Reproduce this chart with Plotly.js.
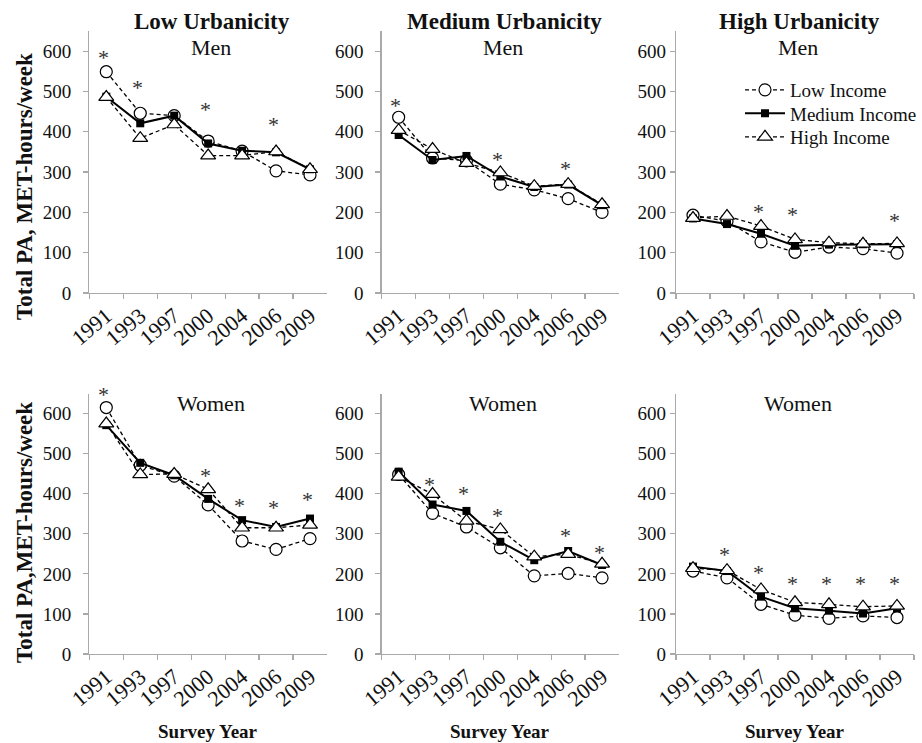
<!DOCTYPE html>
<html>
<head>
<meta charset="utf-8">
<script src="https://cdn.plot.ly/plotly-3.0.1.min.js"></script>
<style>html,body{margin:0;padding:0;background:#fff;}#chart{width:922px;height:743px;}</style>
</head>
<body>
<div id="chart"></div>
<script>
// ---- data ----
var years = ['1991','1993','1997','2000','2004','2006','2009'];
var seriesNames = ['Low Income','Medium Income','High Income'];
var columnTitles = ['Low Urbanicity','Medium Urbanicity','High Urbanicity'];
var rowTitles = ['Men','Women'];

var lowUrbMenLow  = [549,446,440,377,352,303,293];
var lowUrbMenMed  = [487,421,440,371,353,349,307];
var lowUrbMenHigh = [486,384,418,341,341,351,307];

var medUrbMenLow  = [436,335,328,270,256,234,200];
var medUrbMenMed  = [392,330,340,289,263,269,218];
var medUrbMenHigh = [404,357,322,299,265,270,220];

var highUrbMenLow  = [193,178,127,101,114,110,99];
var highUrbMenMed  = [185,171,147,117,120,121,121];
var highUrbMenHigh = [186,191,166,133,125,122,123];

var lowUrbWomenLow  = [615,471,444,372,282,261,288];
var lowUrbWomenMed  = [571,477,446,387,334,317,338];
var lowUrbWomenHigh = [575,448,449,411,315,315,322];

var medUrbWomenLow  = [448,351,317,265,195,201,190];
var medUrbWomenMed  = [455,373,357,280,234,257,222];
var medUrbWomenHigh = [442,399,332,311,243,249,225];

var highUrbWomenLow  = [207,190,124,97,89,95,91];
var highUrbWomenMed  = [218,207,143,114,108,101,114];
var highUrbWomenHigh = [214,209,161,129,124,118,120];

// significance markers (*) : vertical placement per year, null = none
var sigLowUrbMen    = [593,521,null,464,null,427,null];
var sigMedUrbMen    = [475,null,null,342,null,318,null];
var sigHighUrbMen   = [null,null,213,205,null,null,190];
var sigLowUrbWomen  = [657,null,null,455,380,376,396];
var sigMedUrbWomen  = [null,434,411,355,null,305,264];
var sigHighUrbWomen = [null,259,214,186,186,186,186];

// ---- build ----
var panels = [
  [lowUrbMenLow, lowUrbMenMed, lowUrbMenHigh, sigLowUrbMen],
  [medUrbMenLow, medUrbMenMed, medUrbMenHigh, sigMedUrbMen],
  [highUrbMenLow, highUrbMenMed, highUrbMenHigh, sigHighUrbMen],
  [lowUrbWomenLow, lowUrbWomenMed, lowUrbWomenHigh, sigLowUrbWomen],
  [medUrbWomenLow, medUrbWomenMed, medUrbWomenHigh, sigMedUrbWomen],
  [highUrbWomenLow, highUrbWomenMed, highUrbWomenHigh, sigHighUrbWomen]
];

var W = 922, H = 743;
var YMAX = 650;
var colPx = [[89.3,327],[381.7,619],[676,914]];
var rowPx = [[31,293],[393.5,654]];
var standoffs = [8,8,0];
var FONT = 'Liberation Serif, Times New Roman, serif';
var AXC = '#a9a9a9';

var styles = [
  {line:{color:'#000',width:1.3,dash:'4px,3px'}, marker:{symbol:'circle',size:12,color:'#fff',line:{color:'#000',width:1.2}}},
  {line:{color:'#000',width:2}, marker:{symbol:'square',size:8,color:'#000',line:{color:'#000',width:0}}},
  {line:{color:'#000',width:1.3,dash:'4px,3px'}, marker:{symbol:'triangle-up',size:13,color:'#fff',line:{color:'#000',width:1.2}}}
];
var legendIds = ['legend','legend2','legend3'];
var legendY = [90,113.5,137];

var data = [];
var layout = {
  width: W, height: H,
  margin: {l:0,r:0,t:0,b:0},
  paper_bgcolor: '#fff', plot_bgcolor: 'rgba(0,0,0,0)',
  font: {family: FONT, color: '#111', size: 19},
  showlegend: true,
  annotations: [],
  hovermode: false
};
legendIds.forEach(function(id, k) {
  layout[id] = {x: 740/W, y: 1-legendY[k]/H, xanchor:'left', yanchor:'middle', bgcolor:'rgba(0,0,0,0)',
                font:{family:FONT,size:19,color:'#111'}, itemwidth: 40};
});

panels.forEach(function(p, i) {
  var col = i % 3, row = Math.floor(i / 3);
  var n = i + 1;
  var xa = 'x' + (n === 1 ? '' : n), ya = 'y' + (n === 1 ? '' : n);
  var pxPerUnit = (rowPx[row][1] - rowPx[row][0]) / YMAX;
  for (var s = 0; s < 3; s++) {
    data.push({
      type:'scatter', mode:'lines+markers', x: years, y: p[s],
      xaxis: xa, yaxis: ya, name: seriesNames[s],
      showlegend: (i === 2), legend: legendIds[s],
      line: styles[s].line, marker: styles[s].marker, cliponaxis: false
    });
  }
  p[3].forEach(function(v, k) {
    if (v === null) return;
    var yy = Math.min(v, YMAX - 0.5);
    layout.annotations.push({
      xref: xa, yref: ya, x: k, y: yy, text:'*', showarrow:false,
      xanchor:'center', yanchor:'middle', xshift:-3, yshift: -4 + (v - yy) * pxPerUnit,
      font:{family:FONT,size:22,color:'#333'}
    });
  });
  var xd = [colPx[col][0]/W, colPx[col][1]/W];
  var yd = [1 - rowPx[row][1]/H, 1 - rowPx[row][0]/H];
  layout['xaxis' + (n === 1 ? '' : n)] = {
    domain: xd, anchor: ya, type:'category', tickson:'boundaries', range:[-0.5, years.length - 0.5],
    categoryorder:'array', categoryarray: years,
    ticks:'outside', ticklen:5, tickcolor:AXC, tickwidth:1.2,
    showline:true, linecolor:AXC, linewidth:1.3, showgrid:false, zeroline:false,
    tickangle:-40, tickfont:{family:FONT,size:22,color:'#111'}, fixedrange:true
  };
  layout['yaxis' + (n === 1 ? '' : n)] = {
    domain: yd, anchor: xa, range:[0,YMAX], dtick:100, tick0:0,
    ticks:'outside', ticklen:5, tickcolor:AXC, tickwidth:1.2,
    showline:true, linecolor:AXC, linewidth:1.3, showgrid:false, zeroline:false,
    tickfont:{family:FONT,size:19,color:'#111'}, ticklabelstandoff: standoffs[col], fixedrange:true
  };
  var cx = (colPx[col][0] + colPx[col][1]) / 2;
  layout.annotations.push({
    xref:'paper', yref:'paper', x:(cx+3)/W, y:1-(row===0?48:403)/H, xanchor:'center', yanchor:'middle',
    text: rowTitles[row], showarrow:false, font:{family:FONT,size:22,color:'#111'}
  });
  if (row === 0) {
    layout.annotations.push({
      xref:'paper', yref:'paper', x:(cx+4)/W, y:1-21/H, xanchor:'center', yanchor:'middle',
      text:'<b>' + columnTitles[col] + '</b>', showarrow:false, font:{family:FONT,size:23,color:'#111'}
    });
  } else {
    layout.annotations.push({
      xref:'paper', yref:'paper', x:cx/W, y:1-731/H, xanchor:'center', yanchor:'middle',
      text:'<b>Survey Year</b>', showarrow:false, font:{family:FONT,size:19,color:'#111'}
    });
  }
});

layout.annotations.push({
  xref:'paper', yref:'paper', x:24/W, y:1-187/H, xanchor:'center', yanchor:'middle', textangle:-90,
  text:'<b>Total PA, MET-hours/week</b>', showarrow:false, font:{family:FONT,size:23,color:'#111'}
});
layout.annotations.push({
  xref:'paper', yref:'paper', x:24/W, y:1-533/H, xanchor:'center', yanchor:'middle', textangle:-90,
  text:'<b>Total PA,MET-hours/week</b>', showarrow:false, font:{family:FONT,size:23,color:'#111'}
});

Plotly.newPlot('chart', data, layout, {displayModeBar:false, staticPlot:true});
</script>
</body>
</html>
